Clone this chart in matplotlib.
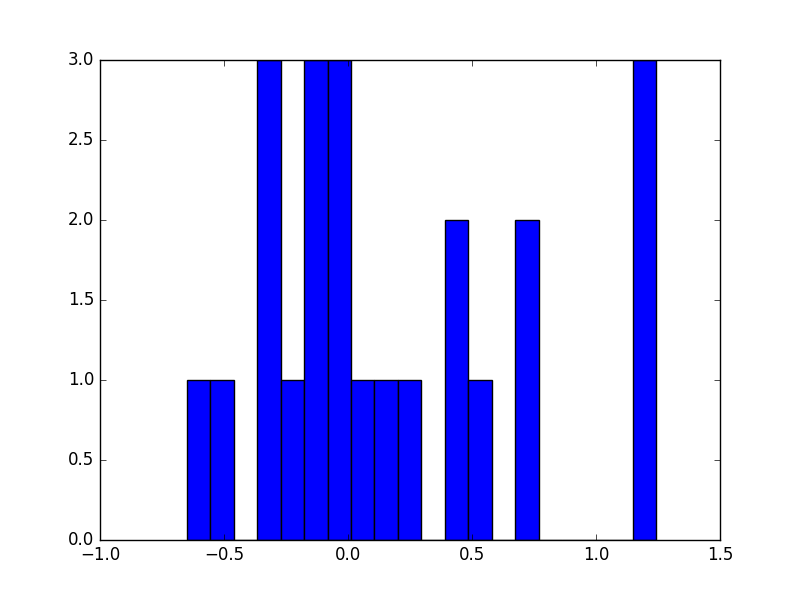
import matplotlib
matplotlib.use("Agg")
import matplotlib.pyplot as plt
import numpy as np

plt.style.use("classic")

# histogram range and counts per bin (20 bins)
x_min, x_max = -0.650, 1.242
counts = [1, 1, 0, 3, 1, 3, 3, 1, 1, 1, 0, 2, 1, 0, 2, 0, 0, 0, 0, 3]

edges = np.linspace(x_min, x_max, len(counts) + 1)
centers = (edges[:-1] + edges[1:]) / 2

fig, ax = plt.subplots(figsize=(8, 6), dpi=100)
ax.hist(centers, bins=edges, weights=counts, color="blue", edgecolor="black")
ax.set_xlim(-1.0, 1.5)
ax.set_ylim(0, 3.0)

fig.savefig("out.png", dpi=100)
